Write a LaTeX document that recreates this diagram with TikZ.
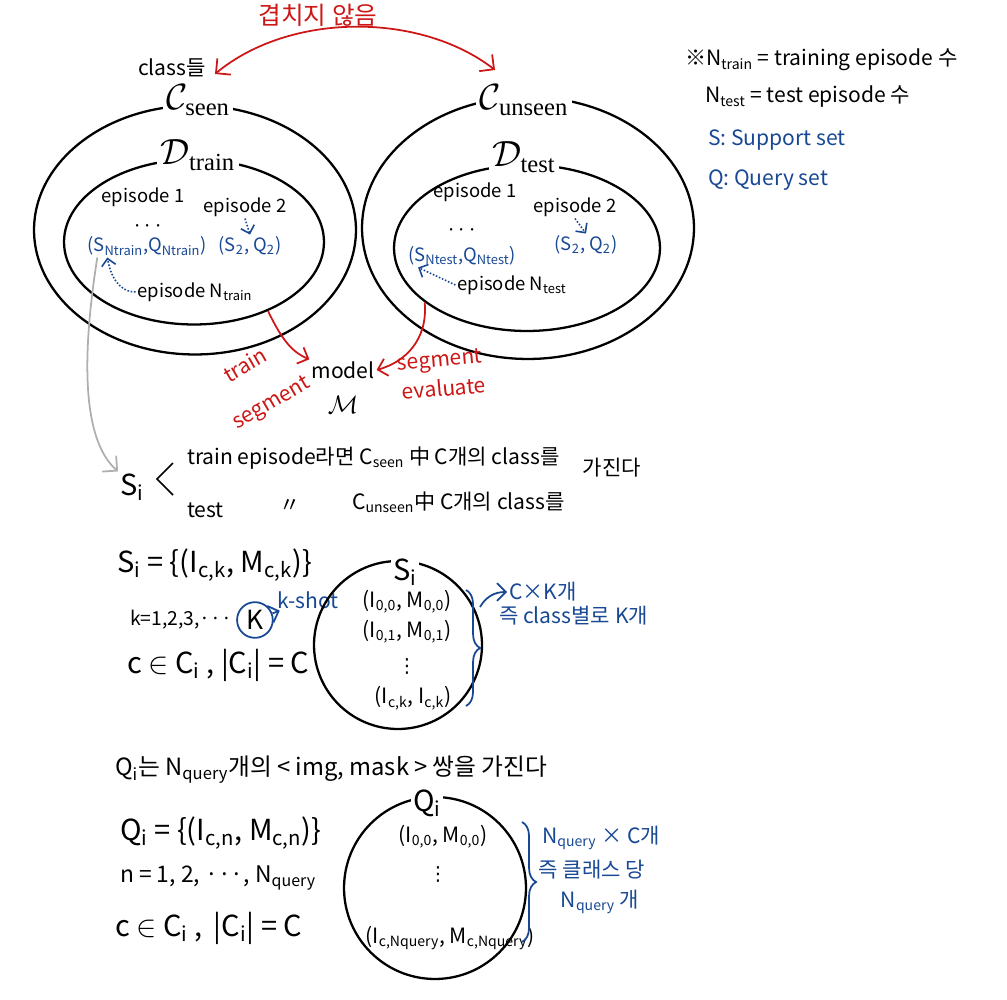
\documentclass[tikz,border=0pt]{standalone}
\usepackage{amsmath}
\usepackage{fontspec}
\setmainfont{Noto Sans CJK KR}
\newfontfamily\printfont{Liberation Serif}
\newfontfamily\symfont{DejaVu Sans}
\usepackage{xcolor}
\usetikzlibrary{positioning, shapes, arrows, calc, decorations.pathreplacing, arrows.meta}

\definecolor{penred}{RGB}{205,22,22}
\definecolor{penblue}{RGB}{24,72,148}
\definecolor{pengray}{RGB}{175,175,175}

\newcommand{\dn}[1]{\textsubscript{#1}}
\newcommand{\setname}[2]{$\mathcal{#1}_{\text{\printfont #2}}$}

\begin{document}
\begin{tikzpicture}[x=0.02cm, y=-0.02cm,
    hand/.style={font=\fontsize{12}{14}\selectfont, inner sep=1pt},
    inhand/.style={hand, font=\fontsize{10.5}{12}\selectfont},
    eqhand/.style={hand, font=\fontsize{16.5}{19}\selectfont},
    bluehand/.style={hand, text=penblue},
    redhand/.style={hand, text=penred},
    vdotmark/.style={inner sep=0pt, font=\symfont\fontsize{11}{11}\selectfont},
    setlabel/.style={font=\fontsize{20}{24}\selectfont, fill=white, inner sep=2pt},
    ring/.style={draw, line width=1.3pt, inner sep=0pt},
    pen/.style={line width=1pt, -{Straight Barb[length=5pt]}},
    dots/.style={penblue, line width=0.9pt, densely dotted, -{Straight Barb[length=4pt]}}]
  \useasboundingbox (0,0) rectangle (1007,1000);

  % seen / unseen classes
  \node[ring, ellipse, minimum width=6.44cm, minimum height=4.98cm] (seenout) at (195,230) {};
  \node[ring, ellipse, minimum width=5.2cm, minimum height=3.3cm] (seenin) at (194,242) {};
  \node[ring, ellipse, minimum width=6.64cm, minimum height=5.24cm] (testout) at (528,228) {};
  \node[ring, ellipse, minimum width=5.32cm, minimum height=3.32cm] (testin) at (527,248) {};

  \node[setlabel] (cseen) at (198,100) {\setname{C}{seen}};
  \node[setlabel] (cunseen) at (524,100) {\setname{C}{unseen}};
  \node[setlabel] (dtrain) at (198,155) {\setname{D}{train}};
  \node[setlabel] (dtest) at (524,157) {\setname{D}{test}};

  \node[hand] (classes) at (172,68) {class들};
  \coordinate (overlapL) at (215,74);
  \coordinate (overlapR) at (495,70);
  \draw[penred, line width=1pt, {Straight Barb[length=6pt]}-{Straight Barb[length=6pt]}]
    (overlapL) .. controls (290,12) and (420,12) .. (overlapR);
  \node[redhand, font=\fontsize{14}{16}\selectfont] (overlap) at (318,15) {겹치지 않음};

  % train episodes
  \node[inhand] (ep1) at (143,197) {episode 1};
  \node[inhand] (ep2) at (245,207) {episode 2};
  \node[inhand] (dots1) at (148,228) {···};
  \node[inhand, text=penblue] (pairN) at (147,246) {(S\dn{Ntrain},Q\dn{Ntrain})};
  \node[inhand, text=penblue] (pair2) at (250,246) {(S\dn{2}, Q\dn{2})};
  \node[inhand] (epN) at (195,292) {episode N\dn{train}};
  \draw[dots] (ep2.south) -- (pair2.north);
  \draw[dots] (epN.west) to[out=180, in=-80] ($(pairN.south west)+(22,0)$);

  % test episodes
  \node[inhand] (tep1) at (475,192) {episode 1};
  \node[inhand] (tep2) at (575,207) {episode 2};
  \node[inhand] (tdots) at (462,232) {···};
  \node[inhand, text=penblue] (pairNt) at (462,256) {(S\dn{Ntest},Q\dn{Ntest})};
  \node[inhand, text=penblue] (pair2t) at (586,245) {(S\dn{2}, Q\dn{2})};
  \node[inhand] (epNt) at (512,285) {episode N\dn{test}};
  \draw[dots] (tep2.south) -- (pair2t.north);
  \draw[dots] (epNt.west) -- ($(pairNt.south west)+(12,0)$);

  % model
  \node[hand] (model) at (343,370) {model};
  \node[font=\Large] (mset) at (343,405) {$\mathcal{M}$};
  \draw[pen, penred] (seenin.-43) .. controls (282,340) and (292,352) .. (model.north west);
  \draw[pen, penred] (testin.208) .. controls (428,340) and (405,362) .. (model.east);
  \node[redhand, rotate=30] (trainword) at (245,365) {train};
  \node[redhand, rotate=30] (trainseg) at (272,404) {segment};
  \node[redhand, rotate=5] (evalseg) at (440,362) {segment};
  \node[redhand, rotate=5] (evalword) at (444,388) {evaluate};

  % notes
  \node[hand, anchor=west] (ntrain) at (683,60) {※N\dn{train} = training episode 수};
  \node[hand, anchor=west] (ntest) at (703,97) {N\dn{test} = test episode 수};
  \node[bluehand, anchor=west] (snote) at (706,140) {S: Support set};
  \node[bluehand, anchor=west] (qnote) at (706,180) {Q: Query set};

  % S_i classes
  \node[eqhand] (si) at (132,487) {S\dn{i}};
  \draw[line width=1pt] (173,463) -- (157,479) -- (173,495);
  \node[hand, anchor=west] (trainline) at (185,458) {train episode라면 C\dn{seen} 中 C개의 class를};
  \node[hand, anchor=west] (testword) at (185,510) {test};
  \node[hand] (ditto) at (290,506) {〃};
  \node[hand, anchor=west] (testline) at (350,502) {C\dn{unseen}中 C개의 class를};
  \node[hand] (have) at (612,468) {가진다};
  \draw[pengray, line width=1pt, -{Straight Barb[length=6pt]}]
    ($(pairN.south west)+(12,0)$) .. controls (78,380) and (88,445) .. (si.north west);

  % support set
  \node[eqhand, anchor=west] (sdef) at (115,565) {S\dn{i} = \{(I\dn{c,k}, M\dn{c,k})\}};
  \node[hand, font=\fontsize{11}{13}\selectfont, anchor=west] (kdef) at (128,620) {k=1,2,3,···};
  \node[hand, draw=penblue, circle, line width=1pt, inner sep=2pt, font=\fontsize{15}{17}\selectfont,
        right=1pt of kdef] (bigk) {K};
  \node[bluehand] (kshot) at (308,600) {k-shot};
  \draw[pen, penblue] (bigk) -- (kshot);
  \node[eqhand, anchor=west] (cdef) at (125,665) {c $\in$ C\dn{i} , |C\dn{i}| = C};

  \node[ring, circle, minimum size=3.36cm] (scircle) at (398,645) {};
  \node[eqhand, fill=white] (stitle) at (405,572) {S\dn{i}};
  \node[hand] (s00) at (407,602) {(I\dn{0,0}, M\dn{0,0})};
  \node[hand] (s01) at (407,632) {(I\dn{0,1}, M\dn{0,1})};
  \node[vdotmark] (svd) at (407,666) {⋮};
  \node[hand] (sck) at (413,698) {(I\dn{c,k}, I\dn{c,k})};
  \draw[penblue, line width=1pt, decorate, decoration={brace, amplitude=8pt}] (466,590) -- (466,706);
  \node[bluehand, anchor=west] (ckcount) at (507,592) {C×K개};
  \node[bluehand, anchor=west] (ckper) at (497,616) {즉 class별로 K개};
  \draw[pen, penblue] (480,607) to[out=60, in=180] (ckcount.west);

  % query set
  \node[hand, font=\fontsize{13.5}{16}\selectfont, anchor=west] (qhead) at (113,770) {Q\dn{i}는 N\dn{query}개의 < img, mask > 쌍을 가진다};
  \node[eqhand, anchor=west] (qdef) at (118,833) {Q\dn{i} = \{(I\dn{c,n}, M\dn{c,n})\}};
  \node[hand, font=\fontsize{13}{15}\selectfont, anchor=west] (ndef) at (118,878) {n = 1, 2, ···, N\dn{query}};
  \node[eqhand, anchor=west] (cdefq) at (113,928) {c $\in$ C\dn{i} ,\, |C\dn{i}| = C};

  \node[ring, circle, minimum size=3.64cm] (qcircle) at (435,888) {};
  \node[eqhand, fill=white] (qtitle) at (427,803) {Q\dn{i}};
  \node[hand] (q00) at (443,837) {(I\dn{0,0}, M\dn{0,0})};
  \node[vdotmark] (qvd) at (438,874) {⋮};
  \node[hand] (qcn) at (450,938) {(I\dn{c,Nquery}, M\dn{c,Nquery})};
  \draw[penblue, line width=1pt, decorate, decoration={brace, amplitude=8pt}] (522,822) -- (522,942);
  \node[bluehand] (qcount) at (601,838) {N\dn{query} × C개};
  \node[bluehand] (qper) at (592,870) {즉 클래스 당};
  \node[bluehand] (qper2) at (600,902) {N\dn{query} 개};
\end{tikzpicture}
\end{document}
